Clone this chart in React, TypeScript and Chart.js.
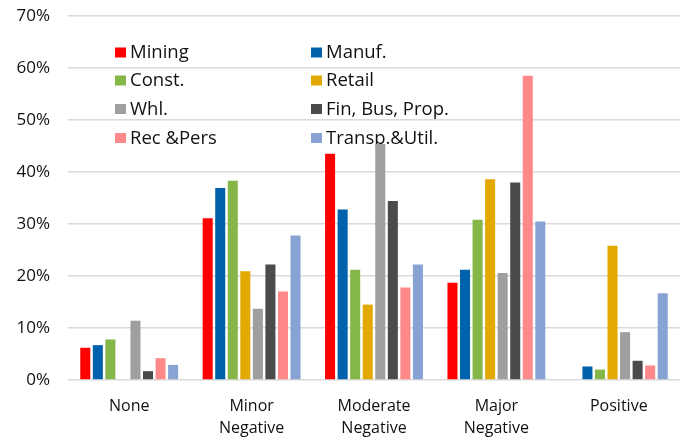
import React, { useEffect, useRef } from 'react';
import { Chart, registerables } from 'chart.js';

Chart.register(...registerables);

// ---- Data ----
const categories: string[][] = [
  ['None'],
  ['Minor', 'Negative'],
  ['Moderate', 'Negative'],
  ['Major', 'Negative'],
  ['Positive'],
];
const seriesNames = ['Mining', 'Manuf.', 'Const.', 'Retail', 'Whl.', 'Fin, Bus, Prop.', 'Rec &Pers', 'Transp.&Util.'];
const mining = [6.2, 31.1, 43.5, 18.7, 0];
const manuf = [6.7, 36.9, 32.8, 21.2, 2.6];
const constr = [7.8, 38.3, 21.2, 30.8, 2.0];
const retail = [0, 20.9, 14.5, 38.6, 25.8];
const whl = [11.4, 13.7, 45.4, 20.6, 9.2];
const finBusProp = [1.7, 22.2, 34.4, 38.0, 3.7];
const recPers = [4.2, 17.0, 17.8, 58.5, 2.8];
const transpUtil = [2.9, 27.8, 22.2, 30.5, 16.7];
const seriesValues = [mining, manuf, constr, retail, whl, finBusProp, recPers, transpUtil];
const yTicks = [0, 10, 20, 30, 40, 50, 60, 70];

// ---- Styles ----
const colors = ['#FF0000', '#0062AC', '#84B748', '#E2A900', '#9F9F9F', '#4B4B4B', '#FF8989', '#87A3D4'];
const FONT = '"Open Sans", "Noto Sans", sans-serif';
const legendColX = [115, 311];
const legendRowY = [52.5, 80.5, 109, 138];

const gridLegend = {
  id: 'gridLegend',
  beforeDatasetsDraw(chart: any) {
    const ctx = chart.ctx;
    ctx.save();
    chart.data.datasets.forEach((ds: any, i: number) => {
      const x = legendColX[i % 2];
      const y = legendRowY[Math.floor(i / 2)];
      ctx.fillStyle = ds.backgroundColor;
      ctx.fillRect(x, y - 5, 11, 10);
      ctx.fillStyle = '#111';
      ctx.font = `18.5px ${FONT}`;
      ctx.textBaseline = 'middle';
      ctx.textAlign = 'left';
      ctx.fillText(ds.label, x + 15, y + 0.5);
    });
    ctx.restore();
  },
};

export default function App() {
  const ref = useRef<HTMLCanvasElement | null>(null);
  useEffect(() => {
    if (!ref.current) return;
    const chart = new Chart(ref.current, {
      type: 'bar',
      data: {
        labels: categories,
        datasets: seriesNames.map((name, i) => ({
          label: name,
          data: seriesValues[i],
          backgroundColor: colors[i],
          borderWidth: 0,
          categoryPercentage: 0.82,
          barPercentage: 0.8,
        })),
      },
      options: {
        animation: false,
        responsive: true,
        maintainAspectRatio: false,
        layout: { padding: { left: 0, right: 1, top: 16, bottom: 0 } },
        plugins: { legend: { display: false }, tooltip: { enabled: false } },
        scales: {
          x: {
            grid: { display: false, drawTicks: false },
            border: { display: false },
            ticks: {
              color: '#111',
              font: { family: FONT, size: 16, lineHeight: 1.375 },
              padding: 15,
              maxRotation: 0,
              autoSkip: false,
            },
            afterFit: (s: any) => { s.height = 59; s.paddingLeft = 0; s.paddingRight = 0; },
          },
          y: {
            min: 0,
            max: 70,
            grid: { color: '#dadada', lineWidth: 1.6, drawTicks: false },
            border: { display: false },
            afterBuildTicks: (s: any) => { s.ticks = yTicks.map((v) => ({ value: v })); },
            ticks: {
              color: '#111',
              font: { family: FONT, size: 17 },
              padding: 18,
              callback: (v: any) => `${v}%`,
            },
            afterFit: (s: any) => { s.width = 68; s.paddingTop = 0; s.paddingBottom = 0; },
          },
        },
      },
      plugins: [gridLegend],
    });
    return () => chart.destroy();
  }, []);
  return (
    <div style={{ position: 'fixed', left: 0, top: 0, width: 681, height: 439, background: '#fff' }}>
      <canvas ref={ref} />
    </div>
  );
}
